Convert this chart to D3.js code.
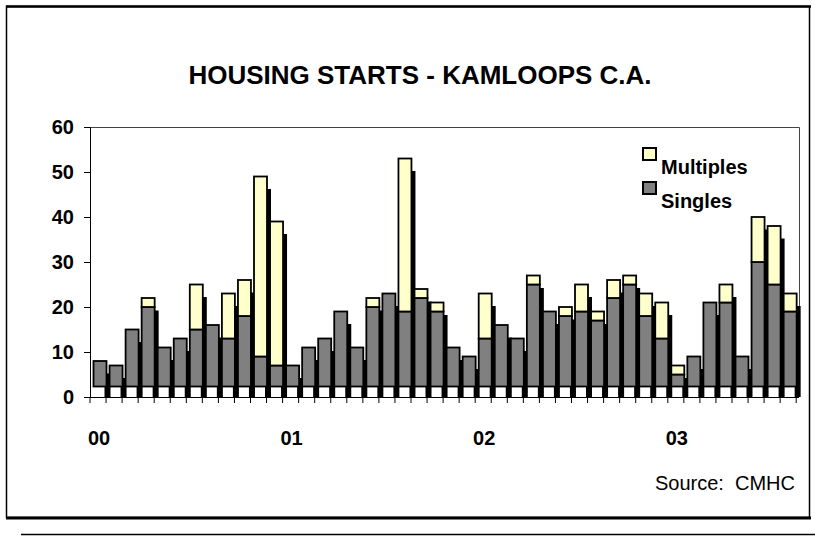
<!DOCTYPE html>
<html>
<head>
<meta charset="utf-8">
<script src="https://cdn.jsdelivr.net/npm/d3@7"></script>
<style>
  body { margin: 0; background: #fff; }
  svg { display: block; font-family: Arial, "Liberation Sans", sans-serif; }
</style>
</head>
<body>
<svg id="chart" width="815" height="543"></svg>
<script>
// Monthly housing starts, Jan 2000 - Aug 2003
var singles = [
    8, 7, 15, 20, 11, 13, 15, 16, 13, 18, 9, 7,
    7, 11, 13, 19, 11, 20, 23, 19, 22, 19, 11, 9,
    13, 16, 13, 25, 19, 18, 19, 17, 22, 25, 18, 13,
    5, 9, 21, 21, 9, 30, 25, 19
];
var multiples = [
    0, 0, 0, 2, 0, 0, 10, 0, 10, 8, 40, 32,
    0, 0, 0, 0, 0, 2, 0, 34, 2, 2, 0, 0,
    10, 0, 0, 2, 0, 2, 6, 2, 4, 2, 5, 8,
    2, 0, 0, 4, 0, 10, 13, 4
];
var yearLabels = ["00", "01", "02", "03"];
var yTicks = [0, 10, 20, 30, 40, 50, 60];
var seriesNames = ["Multiples", "Singles"];

var colors = { Singles: "#808080", Multiples: "#ffffcc" };

var svg = d3.select("#chart");

// Plot area
var plot = { left: 90, right: 799, top: 127, bottom: 397 };
var depthY = 10.5;   // fake 3d depth of each bar

var months = d3.range(singles.length);

var x = d3.scaleBand()
    .domain(months)
    .range([plot.left, plot.left + 16.05 * months.length])
    .paddingInner(0)
    .paddingOuter(0);

var y = d3.scaleLinear()
    .domain([0, 60])
    .range([plot.bottom, plot.top]);

// Outer frame
svg.append("rect")
    .attr("x", 6.5).attr("y", 6.5)
    .attr("width", 803).attr("height", 511)
    .attr("fill", "none")
    .attr("stroke", "#000")
    .attr("stroke-width", 1.5);
svg.append("line")
    .attr("x1", 6).attr("x2", 811).attr("y1", 6.5).attr("y2", 6.5)
    .attr("stroke", "#000").attr("stroke-width", 2.5);
svg.append("line")
    .attr("x1", 6).attr("x2", 811).attr("y1", 518).attr("y2", 518)
    .attr("stroke", "#000").attr("stroke-width", 3);
svg.append("line")
    .attr("x1", 21).attr("x2", 815).attr("y1", 534.5).attr("y2", 534.5)
    .attr("stroke", "#000").attr("stroke-width", 1.5);

// Title
svg.append("text")
    .attr("x", 420).attr("y", 84)
    .attr("text-anchor", "middle")
    .attr("font-size", 26)
    .attr("font-weight", "bold")
    .text("HOUSING STARTS - KAMLOOPS C.A.");

// Plot box (top and right edges)
svg.append("path")
    .attr("d", `M${plot.left},${plot.top + 0.5}H${plot.right + 0.5}V${plot.bottom}`)
    .attr("fill", "none")
    .attr("stroke", "#444")
    .attr("stroke-width", 1);

// Bars: back shadows first, then faces
var data = months.map(function(i) {
    return { i: i, s: singles[i], m: multiples[i] };
});

svg.selectAll(".shadow")
    .data(data)
    .join("rect")
    .attr("class", "shadow")
    .attr("x", function(d) { return x(d.i) + 14.5; })
    .attr("width", 6)
    .attr("y", function(d) { return y(d.s + d.m) + depthY + 2; })
    .attr("height", function(d) { return plot.bottom - (y(d.s + d.m) + depthY + 2); })
    .attr("fill", "#000");

var faces = svg.selectAll(".bar")
    .data(data)
    .join("g")
    .attr("class", "bar");

faces.append("rect")
    .attr("x", function(d) { return x(d.i) + 3.5; })
    .attr("width", 13)
    .attr("y", function(d) { return y(d.s); })
    .attr("height", function(d) { return (plot.bottom - depthY) - y(d.s); })
    .attr("fill", colors.Singles)
    .attr("stroke", "#000")
    .attr("stroke-width", 1.8);

faces.filter(function(d) { return d.m > 0; })
    .append("rect")
    .attr("x", function(d) { return x(d.i) + 3.5; })
    .attr("width", 13)
    .attr("y", function(d) { return y(d.s + d.m); })
    .attr("height", function(d) { return y(d.s) - y(d.s + d.m); })
    .attr("fill", colors.Multiples)
    .attr("stroke", "#000")
    .attr("stroke-width", 1.8);

// Y axis
var yAxis = svg.append("g")
    .attr("transform", `translate(${plot.left},0)`)
    .call(d3.axisLeft(y).tickValues(yTicks).tickSize(6).tickPadding(10));
yAxis.select(".domain").attr("stroke", "#000");
yAxis.selectAll("text")
    .attr("font-size", 20)
    .attr("font-weight", "bold")
    .attr("font-family", "Arial, 'Liberation Sans', sans-serif")
    .attr("fill", "#000");

// X axis: a tick at each month boundary
svg.append("line")
    .attr("x1", plot.left).attr("x2", plot.right)
    .attr("y1", plot.bottom + 0.5).attr("y2", plot.bottom + 0.5)
    .attr("stroke", "#000");

svg.selectAll(".xtick")
    .data(d3.range(months.length + 1))
    .join("line")
    .attr("class", "xtick")
    .attr("x1", function(k) { return plot.left + k * x.step(); })
    .attr("x2", function(k) { return plot.left + k * x.step(); })
    .attr("y1", plot.bottom)
    .attr("y2", plot.bottom + 6)
    .attr("stroke", "#000");

svg.selectAll(".year")
    .data(yearLabels)
    .join("text")
    .attr("class", "year")
    .attr("x", function(d, i) { return x(i * 12) + x.bandwidth() / 2 + 1; })
    .attr("y", 445)
    .attr("text-anchor", "middle")
    .attr("font-size", 20)
    .attr("font-weight", "bold")
    .text(function(d) { return d; });

// Legend
var legend = svg.selectAll(".legend")
    .data(seriesNames)
    .join("g")
    .attr("class", "legend")
    .attr("transform", function(d, i) { return `translate(643,${148 + i * 34})`; });

legend.append("rect")
    .attr("width", 13).attr("height", 12)
    .attr("fill", function(d) { return colors[d]; })
    .attr("stroke", "#000")
    .attr("stroke-width", 2);

legend.append("text")
    .attr("x", 18).attr("y", 26)
    .attr("font-size", 20)
    .attr("font-weight", "bold")
    .text(function(d) { return d; });

// Source note
svg.append("text")
    .attr("x", 795).attr("y", 490)
    .attr("text-anchor", "end")
    .attr("font-size", 20)
    .style("white-space", "pre")
    .text("Source:  CMHC");
</script>
</body>
</html>
